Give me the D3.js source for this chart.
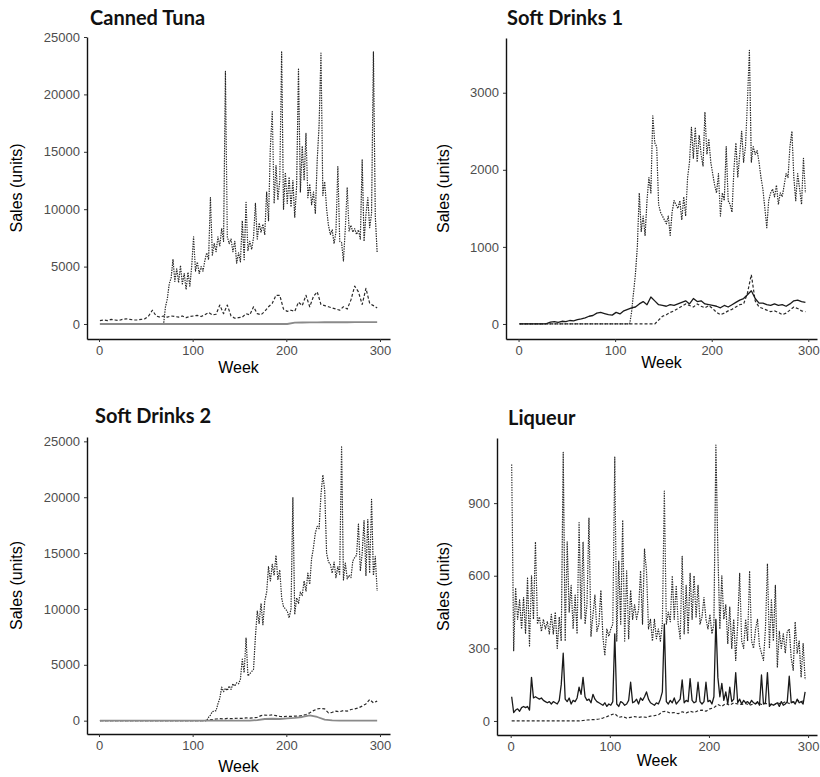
<!DOCTYPE html>
<html>
<head>
<meta charset="utf-8">
<script src="https://cdn.jsdelivr.net/npm/d3@7"></script>
<style>
  body { margin: 0; background: #fff; }
  svg text { font-family: "Liberation Sans", Arial, sans-serif; }
</style>
</head>
<body>
<svg id="chart" width="820" height="777"></svg>
<script>
// weekly sales, sampled every `step` weeks starting at week 1
const weekTicks = [0, 100, 200, 300];

// --- Canned Tuna ---
const tunaTicks = [0, 5000, 10000, 15000, 20000, 25000];
const tunaDotted = [ // step 2
  0,0,0,0,0,0,0,0,0,0, 0,0,0,0,0,0,0,0,0,0, 0,0,0,0,0,0,0,0,0,0, 0,0,0,0,
  0,1500,2200,3500,4000,5600,3700,4800,3600,5100,
  3500,4400,3000,4500,3300,5000,7600,4600,5400,4400,
  5000,4600,5500,6200,5600,11000,6000,7000,6300,7600,
  6800,8300,7200,22000,7600,7000,7400,6300,7200,5300,
  6200,5400,9000,5600,10600,6400,7200,6500,7500,10500,
  7400,8800,8000,8700,7800,11500,9000,15400,18500,10500,
  13800,10800,12500,23700,10000,13200,10500,12800,10200,12500,
  9300,12000,22200,11500,15500,12500,16600,11000,12200,10400,
  11500,9600,14300,17300,23600,11200,12400,10000,8600,7800,
  8200,7000,8000,13700,7200,7100,5500,8300,11900,8100,
  8600,8000,8300,7800,8200,7400,14300,7200,9500,11000,
  8400,9600,23700,9400,6200
];
const tunaDashed = [ // step 4
  300,350,300,400,350,300,400,450,400,350,
  350,400,450,700,1200,700,600,700,600,700,
  650,600,700,550,650,700,750,650,800,1000,
  800,850,1650,900,1650,700,500,550,600,900,
  800,1500,900,800,1100,1500,1800,2500,2500,1300,
  1100,1200,1100,1900,1600,2500,1500,2400,2800,1700,
  1600,1500,1400,1300,1200,1500,1300,2100,3300,2800,
  1700,3100,1800,1600,1400
];
const tunaSolid = [ // step 8
  0,0,0,0,0,0,0,0,0,0, 0,0,0,0,0,0,0,0,0,0, 0,0,0,0,0,0,
  120,130,140,140,150,150,160,150,160,170,160,170
];

// --- Soft Drinks 1 ---
const sd1Ticks = [0, 1000, 2000, 3000];
const sd1Dotted = [ // step 2
  0,0,0,0,0,0,0,0,0,0, 0,0,0,0,0,0,0,0,0,0, 0,0,0,0,0,0,0,0,0,0,
  0,0,0,0,0,0,0,0,0,0, 0,0,0,0,0,0,0,0,0,0, 0,0,0,0,0,0,0,0,
  150,400,650,1000,1700,1200,1400,1150,1600,1900,
  1700,2700,2350,2300,1550,1450,1400,1350,1300,1400,
  1150,1450,1600,1550,1500,1600,1350,1650,1400,1900,
  2100,2550,2150,2550,2100,2450,2200,2050,2750,2200,
  2400,2100,1950,1800,1700,1950,1400,1700,1600,2300,
  1600,1550,1450,2000,2350,1900,2200,2500,2100,2300,
  2900,3550,2100,2300,2200,2250,2100,1900,1750,1500,
  1250,1600,1700,1750,1650,1800,1550,1700,1650,1800,
  1950,1900,2300,2500,1900,1600,1950,1750,1550,2150,
  1700
];
const sd1Dashed = [ // step 4
  0,0,0,0,0,0,0,0,0,0, 0,0,0,0,0,0,0,0,0,0, 0,0,0,0,0,0,0,0,0,0, 0,0,0,0,0,0,
  50,100,120,150,170,200,230,260,240,220,
  260,230,210,240,200,150,120,140,170,190,
  220,250,260,400,640,300,220,200,180,160,
  170,150,120,140,180,220,200,170,160
];
const sd1Solid = [ // step 4
  0,0,0,0,0,0,0,5,25,30,
  20,35,30,45,40,55,65,80,100,110,
  140,150,135,120,115,150,130,170,190,210,
  220,260,290,250,350,300,250,240,230,250,
  240,260,280,300,260,330,290,300,260,250,
  240,230,210,240,220,250,280,310,330,380,
  430,330,270,270,250,240,260,240,250,230,
  260,300,310,290,280
];

// --- Soft Drinks 2 ---
const sd2Ticks = [0, 5000, 10000, 15000, 20000, 25000];
const sd2Dotted = [ // step 2
  0,0,0,0,0,0,0,0,0,0, 0,0,0,0,0,0,0,0,0,0, 0,0,0,0,0,0,0,0,0,0,
  0,0,0,0,0,0,0,0,0,0, 0,0,0,0,0,0,0,0,0,0, 0,0,0,0,0,0,0,0,
  300,500,800,850,900,1500,2000,3000,2600,2900,
  2700,3100,2800,3300,3100,3400,3300,3700,5500,4300,
  7400,4000,4200,4400,4600,7500,9800,8700,10500,8600,
  10700,11500,13800,12500,14000,13000,14800,12600,13500,11000,
  10200,10000,9800,9200,10000,20000,9500,11000,10500,11500,
  11200,12500,11600,13200,12200,14500,15500,16800,17400,17200,
  20200,22000,20600,15000,14200,14000,13200,14200,12800,13800,
  13100,24500,12600,14100,12700,13000,12800,14300,14600,14800,
  17600,13400,15000,17900,13000,18000,13200,19800,13000,14700,
  11600
];
const sd2Dashed = [ // step 4
  0,0,0,0,0,0,0,0,0,0, 0,0,0,0,0,0,0,0,0,0, 0,0,0,0,0,0,0,0,0,
  50,100,150,180,150,200,180,200,220,200,
  250,220,260,300,450,500,480,520,450,380,
  350,400,380,420,400,450,550,700,900,1050,
  1100,1050,700,750,850,800,900,850,1000,1050,
  1150,1300,1500,1900,1600,1750
];
const sd2Solid = [ // step 8
  0,0,0,0,0,0,0,0,0,0, 0,0,0,0,0,0,0,0,0,0, 0,
  50,150,170,150,200,250,330,480,330,100,30,0,0,0,0,0,0
];

// --- Liqueur ---
const liqTicks = [0, 300, 600, 900];
const liqDotted = [ // step 2
  1060,290,550,420,500,380,510,360,590,310,
  600,420,740,400,430,370,420,380,410,360,
  440,360,450,300,430,330,1110,330,740,450,
  560,380,520,360,820,420,740,400,480,840,
  350,440,520,370,400,540,350,270,380,350,
  380,400,1090,330,660,400,830,330,620,340,
  540,420,480,420,460,620,400,710,620,380,
  420,330,420,340,380,330,400,950,400,450,
  410,600,420,560,400,340,680,360,560,360,
  610,420,600,430,560,400,430,510,420,380,
  440,360,400,1140,700,380,600,420,480,320,
  470,300,420,250,400,610,330,300,420,330,
  620,330,300,380,420,310,280,250,380,650,
  300,500,330,560,220,370,300,360,280,370,
  380,260,210,410,280,330,180,320,170
];
const liqDashed = [ // step 4
  0,0,0,0,0,0,0,0,0,0, 0,0,0,0,0,0,0,0,
  2,4,5,6,8,12,18,25,30,15,
  18,12,15,18,15,17,15,20,22,25,
  38,40,32,35,30,38,33,40,35,42,
  45,40,50,55,68,60,72,65,75,70,
  68,72,65,70,75,68,72,70,65,75,
  70,80,72,78,85,80,85
];
const liqSolid = [ // step 2
  100,35,45,50,40,55,60,55,60,45,
  180,95,100,95,90,95,85,80,75,80,
  70,80,75,70,85,150,280,90,80,95,
  70,85,80,95,140,110,180,100,85,90,
  75,110,90,80,75,70,65,75,60,70,
  65,80,360,70,60,80,75,65,70,85,
  160,75,80,90,70,95,85,100,120,90,
  75,70,65,75,70,90,120,400,80,70,
  85,75,95,70,80,90,170,75,85,80,
  175,85,75,80,160,80,70,80,160,80,
  85,70,100,420,180,100,155,85,120,70,
  140,80,90,200,75,90,70,85,75,80,
  70,85,75,70,80,65,190,70,75,200,
  60,70,65,70,75,60,80,65,70,80,
  185,75,80,70,90,75,80,70,120
];

// --- layout (pixels) ---
const panels = [
  { title: "Canned Tuna", titleX: 90, titleY: 25,
    rect: { l: 87, t: 37, r: 390, b: 339 }, xDom: [-12.8, 310.7], yDom: [-1307, 25000],
    yTicks: tunaTicks, yLabelX: 22, xLabelY: 373, solidColor: "#8a8a8a", solidWidth: 1.8,
    series: [
      { values: tunaDotted, step: 2, kind: "dotted" },
      { values: tunaDashed, step: 4, kind: "dashed" },
      { values: tunaSolid, step: 8, kind: "solid" }
    ] },
  { title: "Soft Drinks 1", titleX: 507, titleY: 25,
    rect: { l: 506, t: 38, r: 817, b: 339 }, xDom: [-13, 309], yDom: [-195, 3710],
    yTicks: sd1Ticks, yLabelX: 449, xLabelY: 368, solidColor: "#1a1a1a", solidWidth: 1.3,
    series: [
      { values: sd1Dotted, step: 2, kind: "dotted" },
      { values: sd1Dashed, step: 4, kind: "dashed" },
      { values: sd1Solid, step: 4, kind: "solid" }
    ] },
  { title: "Soft Drinks 2", titleX: 95, titleY: 423,
    rect: { l: 87, t: 437, r: 390, b: 734 }, xDom: [-12.8, 310.7], yDom: [-1193, 25390],
    yTicks: sd2Ticks, yLabelX: 22, xLabelY: 772, solidColor: "#8a8a8a", solidWidth: 1.8,
    series: [
      { values: sd2Dotted, step: 2, kind: "dotted" },
      { values: sd2Dashed, step: 4, kind: "dashed" },
      { values: sd2Solid, step: 8, kind: "solid" }
    ] },
  { title: "Liqueur", titleX: 508, titleY: 425,
    rect: { l: 497, t: 438, r: 817, b: 735 }, xDom: [-13.8, 309], yDom: [-58, 1169],
    yTicks: liqTicks, yLabelX: 449, xLabelY: 766, solidColor: "#1a1a1a", solidWidth: 1.3,
    series: [
      { values: liqDotted, step: 2, kind: "dotted" },
      { values: liqDashed, step: 4, kind: "dashed" },
      { values: liqSolid, step: 2, kind: "solid" }
    ] }
];

const lineStyles = {
  dotted: { stroke: "#262626", width: 1.2, dash: "1.4,1.1" },
  dashed: { stroke: "#2a2a2a", width: 1.2, dash: "3,2" }
};

const svg = d3.select("#chart");
svg.append("rect").attr("width", 820).attr("height", 777).attr("fill", "#fff");

panels.forEach(p => {
  const x = d3.scaleLinear().domain(p.xDom).range([p.rect.l, p.rect.r]);
  const y = d3.scaleLinear().domain(p.yDom).range([p.rect.b, p.rect.t]);
  const g = svg.append("g");

  // series: dotted first, solid on top
  p.series.forEach(s => {
    const pts = s.values.map((v, i) => [1 + i * s.step, v]);
    const line = d3.line().x(d => x(d[0])).y(d => y(d[1]));
    const st = s.kind === "solid"
      ? { stroke: p.solidColor, width: p.solidWidth, dash: null }
      : lineStyles[s.kind];
    g.append("path")
      .attr("d", line(pts))
      .attr("fill", "none")
      .attr("stroke", st.stroke)
      .attr("stroke-width", st.width)
      .attr("stroke-dasharray", st.dash)
      .attr("stroke-linejoin", "round");
  });

  // axes
  const yAxis = g.append("g")
    .attr("transform", `translate(${p.rect.l},0)`)
    .call(d3.axisLeft(y).tickValues(p.yTicks).tickFormat(d3.format("d"))
      .tickSize(3).tickSizeOuter(0).tickPadding(4));
  const xAxis = g.append("g")
    .attr("transform", `translate(0,${p.rect.b})`)
    .call(d3.axisBottom(x).tickValues(weekTicks).tickFormat(d3.format("d"))
      .tickSize(3).tickSizeOuter(0).tickPadding(4));
  [yAxis, xAxis].forEach(a => {
    a.select(".domain").attr("stroke", "#111").attr("stroke-width", 1.4);
    a.selectAll(".tick line").attr("stroke", "#333");
    a.selectAll(".tick text").attr("fill", "#4d4d4d").style("font-size", "13px");
  });

  // labels
  g.append("text")
    .attr("x", (p.rect.l + p.rect.r) / 2).attr("y", p.xLabelY)
    .attr("text-anchor", "middle").style("font-size", "16px").attr("fill", "#000")
    .text("Week");
  g.append("text")
    .attr("transform", `translate(${p.yLabelX},${(p.rect.t + p.rect.b) / 2}) rotate(-90)`)
    .attr("text-anchor", "middle").style("font-size", "16px").attr("fill", "#000")
    .text("Sales (units)");
  g.append("text")
    .attr("x", p.titleX).attr("y", p.titleY)
    .style("font-family", "Lato, 'Open Sans', sans-serif")
    .style("font-weight", "700").style("font-size", "20px").attr("fill", "#111")
    .text(p.title);
});
</script>
</body>
</html>
